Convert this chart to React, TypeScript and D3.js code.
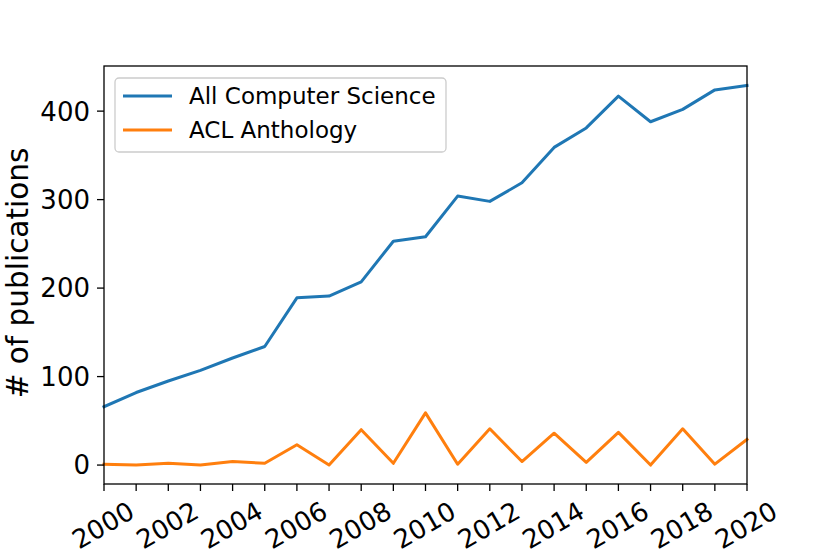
import React from "react";
import * as d3 from "d3";

const years = d3.range(2000, 2021);
const allCS = [66, 82, 95, 107, 121, 134, 189, 191, 207, 253, 258, 304, 298, 319, 359, 381, 417, 388, 402, 424, 429];
const aclAnthology = [1, 0, 2, 0, 4, 2, 23, 0, 40, 2, 59, 1, 41, 4, 36, 3, 37, 0, 41, 1, 29];
const yTicks = [0, 100, 200, 300, 400];
const xTickLabels = d3.range(2000, 2021, 2);

const series = [
  { name: "All Computer Science", values: allCS, color: "#1f77b4" },
  { name: "ACL Anthology", values: aclAnthology, color: "#ff7f0e" },
];

const W = 830;
const H = 554;
const margin = { top: 66, right: 83, bottom: 70, left: 104 };

const App = () => {
  const innerW = W - margin.left - margin.right;
  const innerH = H - margin.top - margin.bottom;

  const x = d3.scaleLinear().domain([2000, 2020]).range([0, innerW]);
  const y = d3.scaleLinear().domain([-21.4, 451]).range([innerH, 0]);

  const line = d3
    .line<number>()
    .x((_, i) => x(years[i]))
    .y((d) => y(d));

  const font = "DejaVu Sans, sans-serif";

  return (
    <svg width={W} height={H} style={{ position: "absolute", left: 0, top: 0, background: "#fff" }}>
      <g transform={`translate(${margin.left},${margin.top})`}>
        {series.map((s) => (
          <path
            key={s.name}
            d={line(s.values) ?? ""}
            fill="none"
            stroke={s.color}
            strokeWidth={3}
            strokeLinejoin="round"
            strokeLinecap="square"
          />
        ))}

        {/* frame */}
        <rect x={0} y={0} width={innerW} height={innerH} fill="none" stroke="#000" strokeWidth={1.3} />

        {/* y axis */}
        {yTicks.map((t) => (
          <g key={t} transform={`translate(0,${y(t)})`}>
            <line x1={-7} x2={0} stroke="#000" strokeWidth={1.3} />
            <text x={-14} dy="0.36em" textAnchor="end" fontFamily={font} fontSize={26} fill="#000">
              {t}
            </text>
          </g>
        ))}

        {/* x axis */}
        {years.map((yr) => (
          <line key={yr} x1={x(yr)} x2={x(yr)} y1={innerH} y2={innerH + 7} stroke="#000" strokeWidth={1.3} />
        ))}
        {xTickLabels.map((yr) => (
          <text
            key={yr}
            transform={`translate(${x(yr) - 1},${innerH + 41}) rotate(-30)`}
            textAnchor="middle"
            dy="0.36em"
            fontFamily={font}
            fontSize={26}
            fill="#000"
          >
            {yr}
          </text>
        ))}

        {/* legend */}
        <g transform="translate(11,12)">
          <rect x={0} y={0} width={331} height={74} rx={4} fill="#fff" fillOpacity={0.8} stroke="#cccccc" strokeWidth={1.3} />
          {series.map((s, i) => (
            <g key={s.name} transform={`translate(0,${18 + i * 34})`}>
              <line x1={8} x2={57} stroke={s.color} strokeWidth={3} />
              <text x={74} dy="0.36em" fontFamily={font} fontSize={23} fill="#000">
                {s.name}
              </text>
            </g>
          ))}
        </g>
      </g>

      <text
        transform={`translate(28,${margin.top + innerH / 2 - 2}) rotate(-90)`}
        textAnchor="middle"
        fontFamily={font}
        fontSize={29.5}
        fill="#000"
      >
        # of publications
      </text>
    </svg>
  );
};

export default App;
